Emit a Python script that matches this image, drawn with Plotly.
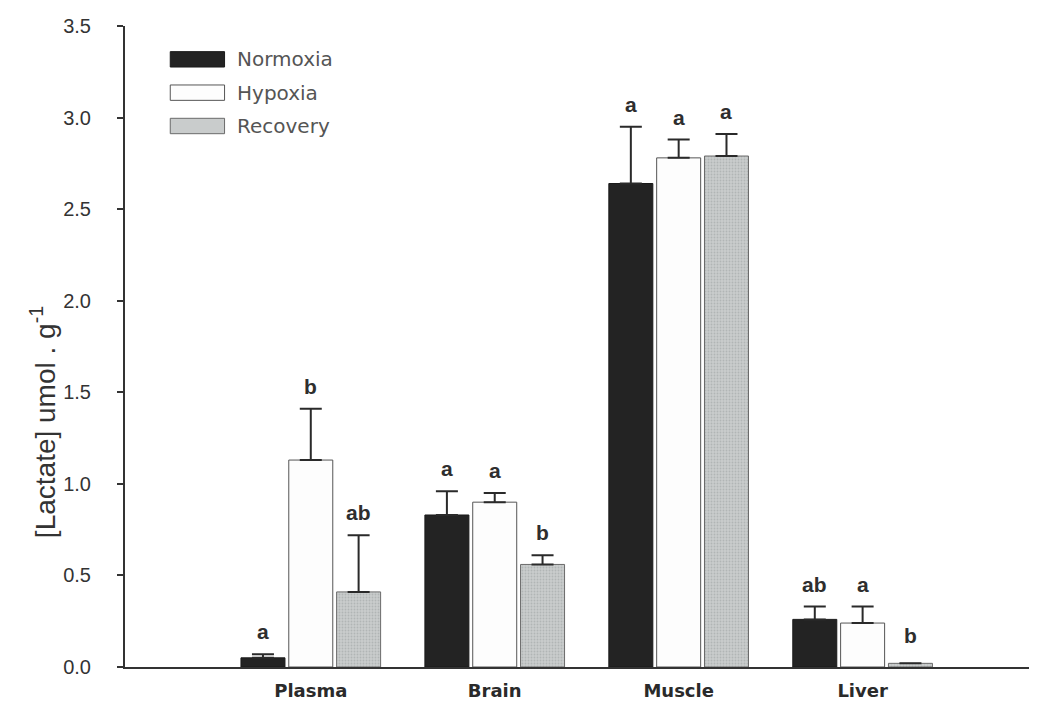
import plotly.graph_objects as go

tissues = ["Plasma", "Brain", "Muscle", "Liver"]
conditions = ["Normoxia", "Hypoxia", "Recovery"]

normoxia = [0.05, 0.83, 2.64, 0.26]
normoxia_err = [0.02, 0.13, 0.31, 0.07]
hypoxia = [1.13, 0.90, 2.78, 0.24]
hypoxia_err = [0.28, 0.05, 0.10, 0.09]
recovery = [0.41, 0.56, 2.79, 0.02]
recovery_err = [0.31, 0.05, 0.12, None]

letters_normoxia = ["a", "a", "a", "ab"]
letters_hypoxia = ["b", "a", "a", "a"]
letters_recovery = ["ab", "b", "a", "b"]

y_ticks = [0.0, 0.5, 1.0, 1.5, 2.0, 2.5, 3.0, 3.5]

FONT = "Liberation Sans, Arial"
WIDE = "DejaVu Sans"

series = [
    (conditions[0], normoxia, normoxia_err, letters_normoxia, "#232323", "#1a1a1a", None),
    (conditions[1], hypoxia, hypoxia_err, letters_hypoxia, "#fdfdfd", "#555555", None),
    (conditions[2], recovery, recovery_err, letters_recovery, "#c9cccc", "#6a6a6a", "."),
]

x_idx = list(range(len(tissues)))
offsets = [-0.26, 0.0, 0.26]

fig = go.Figure()
for i, ((name, vals, errs, letters, fill, line, pat), off) in enumerate(zip(series, offsets)):
    marker = dict(color=fill, line=dict(color=line, width=1))
    if pat:
        marker["pattern"] = dict(shape=pat, fgcolor="#9a9d9d", bgcolor=fill, size=3, solidity=0.3)
    fig.add_trace(go.Bar(
        name=name, x=x_idx, y=vals, marker=marker, showlegend=False,
        error_y=dict(type="data", array=errs, arrayminus=[0] * len(errs), symmetric=False,
                     color="#2a2a2a", thickness=2, width=11),
    ))
    for xi, v, e, t in zip(x_idx, vals, errs, letters):
        e = e or 0
        fig.add_annotation(x=xi + off, y=v + e, text=t, showarrow=False,
                           yanchor="bottom", yshift=9 if e > 0 else 14,
                           font=dict(family=FONT, size=21, color="#2e2e2e", weight="bold"))
    # legend entry (wide swatch + label), drawn in paper coordinates
    ly = 0.948 - i * 0.052
    fig.add_shape(type="rect", xref="paper", yref="paper",
                  x0=0.050, x1=0.110, y0=ly - 0.012, y1=ly + 0.012,
                  fillcolor=fill, line=dict(color=line, width=1))
    fig.add_annotation(xref="paper", yref="paper", x=0.122, y=ly, text=name,
                       showarrow=False, xanchor="left", yanchor="middle",
                       font=dict(family=WIDE, size=20, color="#555555"))

# y-axis title
fig.add_annotation(xref="paper", yref="paper", x=0, y=0.382, xshift=-82,
                   text="[Lactate] umol . g<sup>-1</sup>", textangle=-90, showarrow=False,
                   xanchor="center", yanchor="middle",
                   font=dict(family=FONT, size=28, color="#333333"))

fig.update_layout(
    barmode="group", bargap=0.22, bargroupgap=0.08,
    width=1037, height=707,
    margin=dict(l=117, r=15, t=18, b=48),
    plot_bgcolor="white", paper_bgcolor="white",
    font=dict(family=FONT, color="#333333"),
    showlegend=False,
)
fig.update_xaxes(
    range=[-1.01, 3.91], tickmode="array", tickvals=x_idx, ticktext=tissues,
    showline=True, linecolor="#333333", linewidth=2, ticks="", showgrid=False, zeroline=False,
    automargin=False, ticklabelstandoff=6,
    tickfont=dict(family=WIDE, size=18, color="#2a2a2a", weight="bold"),
)
fig.update_yaxes(
    range=[0, 3.5], tickmode="array", tickvals=y_ticks, ticktext=[f"{v:.1f}" for v in y_ticks],
    showline=True, linecolor="#333333", linewidth=2, ticks="outside", ticklen=6, tickwidth=2,
    tickcolor="#333333", showgrid=False, zeroline=False, automargin=False,
    ticklabelstandoff=22,
    tickfont=dict(family=FONT, size=20, color="#333333"),
)

fig.write_html("out.html")
